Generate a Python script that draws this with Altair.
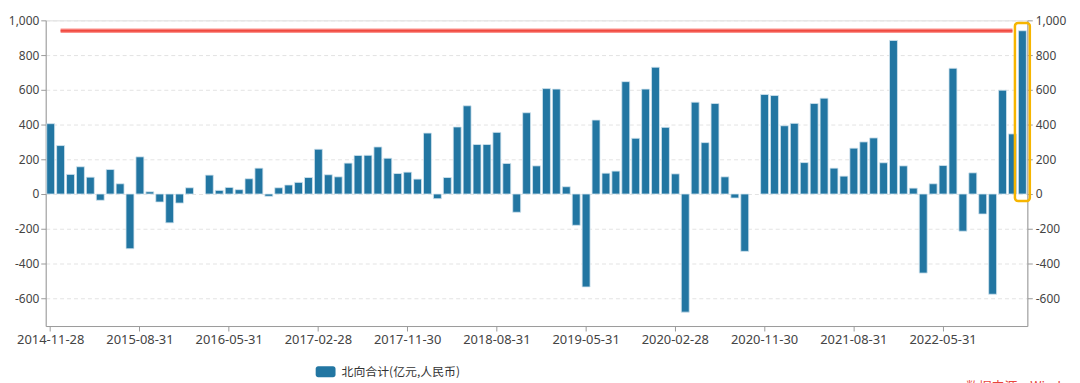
import calendar
import altair as alt
import pandas as pd

# ---------------- data ----------------
tick_labels = ["2014-11-28", "2015-08-31", "2016-05-31", "2017-02-28", "2017-11-30",
               "2018-08-31", "2019-05-31", "2020-02-28", "2020-11-30", "2021-08-31",
               "2022-05-31"]

values = [
    405, 279,                                                        # 2014-11..12
    113, 157, 97, -36, 141, 59, -315, 214, 13, -46, -166, -52,       # 2015
    36, None, 109, 21, 38, 25, 88, 149, -13, 36, 52, 67,             # 2016
    95, 258, 111, 99, 178, 222, 223, 271, 206, 118, 126, 86,         # 2017
    351, -27, 95, 386, 508, 285, 285, 355, 176, -105, 468, 162,      # 2018
    607, 604, 42, -180, -535, 426, 120, 132, 647, 321, 604, 730,     # 2019
    384, 116, -680, 529, 296, 521, 99, -23, -330, None, 573, 567,    # 2020
    393, 407, 181, 521, 552, 149, 103, 264, 300, 323, 180, 884,      # 2021
    162, 34, -455, 59, 164, 724, -214, 122, -115, -577, 598, 346,    # 2022
    940,                                                             # 2023-01
]

series_name = "北向合计(亿元,人民币)"
line_value = 940
source_text = "数据来源：Wind"

# month-end category labels (first trading-day labels used for ticks)
months = []
y, m = 2014, 11
for _ in range(len(values)):
    months.append(f"{y}-{m:02d}-{calendar.monthrange(y, m)[1]:02d}")
    m += 1
    if m > 12:
        m, y = 1, y + 1
for i, lab in zip(range(0, len(months), 9), tick_labels):
    months[i] = lab

df = pd.DataFrame({"date": months, "value": values, "series": series_name})
line_df = pd.DataFrame({"start": [months[1]], "end": [months[-2]], "value": [line_value]})
box_df = pd.DataFrame({"date": [months[-1]], "top": [985], "bottom": [-40]})
src_df = pd.DataFrame({"t": [source_text]})

# ---------------- styling ----------------
FONT = "Noto Sans"
CJK = "Noto Sans CJK SC"
AXIS_COLOR = "#9a9a9a"
LABEL_COLOR = "#444444"

x_scale = alt.Scale(domain=months, paddingInner=0.2, paddingOuter=0.1)
x_axis = alt.Axis(values=tick_labels, labelAngle=0, title=None, grid=False,
                  domainColor=AXIS_COLOR, tickColor=AXIS_COLOR, tickSize=5,
                  labelPadding=3, labelFont=FONT, labelFontSize=13,
                  labelColor=LABEL_COLOR, labelOverlap=False)
y_scale = alt.Scale(domain=[-760, 1000], nice=False, zero=False)
y_ticks = list(range(-600, 1001, 200))

label_expr = ("datum.value < 0 ? '-' + format(-datum.value, ',.0f') "
              ": format(datum.value, ',.0f')")


def y_axis(orient, grid):
    return alt.Axis(orient=orient, values=y_ticks, labelExpr=label_expr, title=None,
                    grid=grid, gridColor="#e3e3e3", gridDash=[4, 3],
                    domainColor=AXIS_COLOR, tickColor=AXIS_COLOR, tickSize=5,
                    labelPadding=2 if orient == "left" else 3,
                    labelFont=FONT, labelFontSize=12, labelColor=LABEL_COLOR)


legend_symbol = ("M-0.75,-0.55 L0.75,-0.55 A0.25,0.25 0 0 1 1,-0.3 L1,0.3 "
                 "A0.25,0.25 0 0 1 0.75,0.55 L-0.75,0.55 A0.25,0.25 0 0 1 -1,0.3 "
                 "L-1,-0.3 A0.25,0.25 0 0 1 -0.75,-0.55 Z")

bars = alt.Chart(df).mark_bar(stroke="#d3e4ee", strokeWidth=0.8).encode(
    x=alt.X("date:N", scale=x_scale, axis=x_axis, sort=None),
    y=alt.Y("value:Q", scale=y_scale, axis=y_axis("left", True)),
    color=alt.Color("series:N", scale=alt.Scale(range=["#2276a2"]),
                    legend=alt.Legend(orient="none", legendX=272, legendY=344,
                                      title=None, symbolType=legend_symbol,
                                      symbolSize=400, symbolStrokeWidth=0,
                                      symbolOpacity=1, labelFont=CJK,
                                      labelFontSize=12, labelColor="#333333",
                                      labelOffset=6, padding=0)),
)

halo = alt.Chart(line_df).mark_rule(color="#fb918b", strokeWidth=4.5).encode(
    x=alt.X("start:N", scale=x_scale, axis=x_axis, sort=None),
    x2="end:N",
    y=alt.Y("value:Q", scale=y_scale, axis=y_axis("right", False)),
)
core = alt.Chart(line_df).mark_rule(color="#f04a40", strokeWidth=2).encode(
    x=alt.X("start:N", scale=x_scale, axis=x_axis, sort=None),
    x2="end:N",
    y=alt.Y("value:Q", scale=y_scale, axis=None),
)

box = alt.Chart(box_df).mark_bar(width=15, fillOpacity=0, stroke="#f6b500",
                                 strokeWidth=2.5, cornerRadius=3).encode(
    x=alt.X("date:N", scale=x_scale, axis=x_axis, sort=None),
    y=alt.Y("top:Q", scale=y_scale, axis=None),
    y2="bottom:Q",
)

src = alt.Chart(src_df).mark_text(align="left", baseline="alphabetic", font=CJK,
                                  fontSize=13, color="#e8453c").encode(
    text="t:N", x=alt.value(927), y=alt.value(373),
)

chart = alt.layer(bars, halo, core, box, src).resolve_axis(y="independent").properties(
    width=989, height=308,
    autosize=alt.AutoSizeParams(type="none"),
    padding={"left": 38, "top": 11, "right": 45, "bottom": 60},
).configure_view(stroke=None).configure(background="white")

chart.save("out.html", embed_options={"renderer": "svg", "actions": False})
